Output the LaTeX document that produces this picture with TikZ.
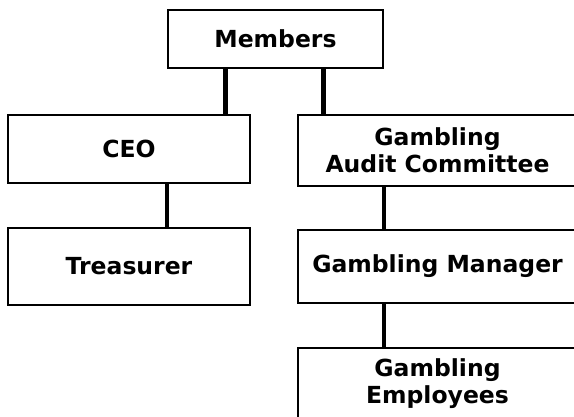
\documentclass[tikz,border=0pt]{standalone}
\usepackage{fontspec}
\setmainfont{DejaVu Sans}
\begin{document}
\begin{tikzpicture}[x=1pt,y=-1pt,
  box/.style={draw=black,line width=2pt,fill=white,inner sep=0pt,outer sep=0pt,
    align=center,font=\fontsize{23.5}{27}\selectfont\bfseries},
  thickline/.style={line width=5pt},
  thinline/.style={line width=3.2pt}]
\clip (0,0) rectangle (574,416);
\useasboundingbox (0,0) rectangle (574,416);
\fill[white] (0,0) rectangle (574,416);
\node[box,minimum width=215pt,minimum height=58pt] (m) at (275.5,39) {Members};
\node[box,minimum width=242pt,minimum height=68pt] (ceo) at (129,149) {CEO};
\node[box,minimum width=242pt,minimum height=77pt] (tr) at (129,266.5) {Treasurer};
\node[box,minimum width=279pt,minimum height=71pt] (gac) at (437.5,150.5) {Gambling\\Audit Committee};
\node[box,minimum width=279pt,minimum height=73pt] (gm) at (437.5,266.5) {Gambling Manager};
\node[box,minimum width=279pt,minimum height=71pt] (ge) at (437.5,383.5) {Gambling\\Employees};
\draw[thickline] (m.south -| 225,0) -- (ceo.north -| 225,0);
\draw[thickline] (m.south -| 323,0) -- (gac.north -| 323,0);
\draw[thinline] (ceo.south -| 167,0) -- (tr.north -| 167,0);
\draw[thinline] (gac.south -| 384,0) -- (gm.north -| 384,0);
\draw[thinline] (gm.south -| 384,0) -- (ge.north -| 384,0);
\end{tikzpicture}
\end{document}
